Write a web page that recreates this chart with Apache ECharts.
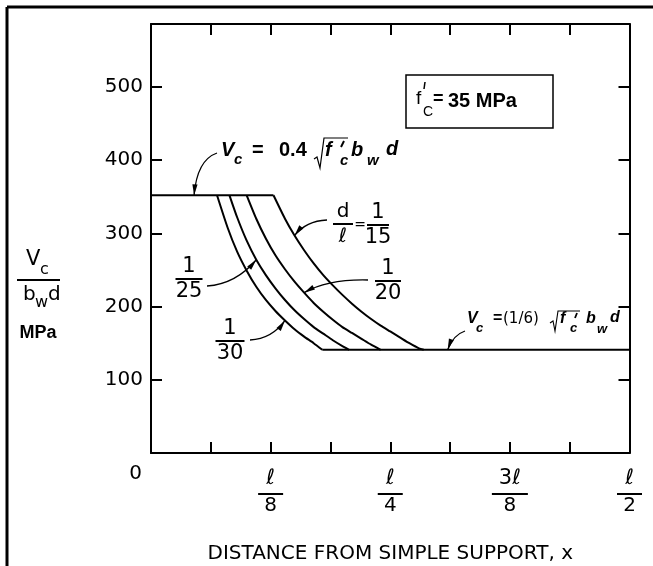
<!DOCTYPE html>
<html><head><meta charset="utf-8">
<script src="https://cdn.jsdelivr.net/npm/echarts@6/dist/echarts.min.js"></script>
<style>html,body{margin:0;padding:0;background:#fff}#c{width:653px;height:566px}</style>
</head><body><div id="c"></div>
<script>
// ---- data (x in units of span l, y in figure units) ----
const upperLimit = 352;   // Vc = 0.4 sqrt(f'c) bw d
const lowerLimit = 141;   // Vc = (1/6) sqrt(f'c) bw d
const upperX = [0, 0.128];
const lowerX = [0.179, 0.5];

const curve30X = [0.069, 0.08, 0.09, 0.10, 0.11, 0.12, 0.13, 0.14, 0.15, 0.16, 0.17, 0.179];
const curve30Y = [352, 308, 275, 249, 227, 209, 194, 181, 169, 159, 150, 141];
const curve25X = [0.082, 0.09, 0.10, 0.11, 0.12, 0.13, 0.14, 0.15, 0.16, 0.17, 0.18, 0.19, 0.20, 0.207];
const curve25Y = [352, 322, 290, 264, 243, 225, 209, 195, 183, 172, 163, 154, 146, 141];
const curve20X = [0.100, 0.11, 0.12, 0.13, 0.14, 0.15, 0.16, 0.17, 0.18, 0.19, 0.20, 0.21, 0.22, 0.23, 0.240];
const curve20Y = [352, 320, 293, 270, 251, 234, 219, 205, 193, 182, 172, 164, 156, 148, 141];
const curve15X = [0.128, 0.14, 0.15, 0.16, 0.17, 0.18, 0.19, 0.20, 0.21, 0.22, 0.23, 0.24, 0.25, 0.26, 0.27, 0.28, 0.285];
const curve15Y = [352, 320, 297, 277, 259, 243, 229, 216, 204, 193, 183, 174, 166, 158, 150, 143, 141];

const xTickValues = [0, 0.125, 0.25, 0.375, 0.5];
const xTickNum = ['0', 'ℓ', 'ℓ', '3ℓ', 'ℓ'];
const xTickDen = ['', '8', '4', '8', '2'];
const yTickLabels = [100, 200, 300, 400, 500];

// ---- chart ----
const FONT = 'DejaVu Sans';
const pair = (xs, ys) => xs.map((x, i) => [x, ys[i]]);
const lineSeries = (data) => ({
  type: 'line', data, showSymbol: false, smooth: 0.2, silent: true,
  lineStyle: { color: '#000', width: 2 }, z: 3
});

const chart = echarts.init(document.getElementById('c'), null, { renderer: 'canvas' });
const lineStyleAx = { show: true, onZero: false, lineStyle: { color: '#000', width: 2 } };
const tickAx = { show: true, inside: true, length: 11, lineStyle: { color: '#000', width: 2 } };
const option = {
  animation: false,
  backgroundColor: '#fff',
  grid: { left: 151, right: 23.5, top: 24, bottom: 113, containLabel: false, outerBoundsMode: 'none' },
  xAxis: [
    {
      type: 'value', min: 0, max: 0.5, interval: 0.0625, position: 'bottom',
      axisLine: lineStyleAx, axisTick: tickAx, splitLine: { show: false },
      name: 'DISTANCE FROM SIMPLE SUPPORT, x',
      nameLocation: 'middle', nameGap: 91,
      nameTextStyle: { fontFamily: FONT, fontSize: 20, color: '#000' },
      axisLabel: {
        show: true, interval: 0, margin: 14, showMinLabel: true, showMaxLabel: true,
        color: '#000', fontFamily: FONT,
        formatter: function (v) {
          const i = xTickValues.findIndex(t => Math.abs(t - v) < 1e-9);
          if (i < 0) return '';
          if (i === 0) return '{z|' + xTickNum[0] + '}';
          const bar = xTickNum[i].length > 1 ? 'bw' : 'b';
          return '{n|' + xTickNum[i] + '}\n{' + bar + '| }\n{d|' + xTickDen[i] + '}';
        },
        rich: {
          z: { fontSize: 20, fontFamily: FONT, lineHeight: 14, padding: [0, 31, 0, 0], color: '#000' },
          n: { fontSize: 21, fontFamily: FONT, lineHeight: 24, align: 'center', color: '#000' },
          b: { width: 25, height: 2, lineHeight: 6, fontSize: 2, backgroundColor: '#000', align: 'center' },
          bw: { width: 36, height: 2, lineHeight: 6, fontSize: 2, backgroundColor: '#000', align: 'center' },
          d: { fontSize: 20, fontFamily: FONT, lineHeight: 18, align: 'center', color: '#000' }
        }
      }
    },
    {
      type: 'value', min: 0, max: 0.5, interval: 0.0625, position: 'top',
      axisLine: lineStyleAx, axisTick: tickAx, splitLine: { show: false }, axisLabel: { show: false }
    }
  ],
  yAxis: [
    {
      type: 'value', min: 0, max: 586, interval: 100, position: 'left',
      axisLine: lineStyleAx, axisTick: tickAx, splitLine: { show: false },
      axisLabel: {
        margin: 8, color: '#000', fontFamily: FONT, fontSize: 20,
        formatter: v => (yTickLabels.indexOf(v) >= 0 ? String(v) : '')
      }
    },
    {
      type: 'value', min: 0, max: 586, interval: 100, position: 'right',
      axisLine: lineStyleAx, axisTick: tickAx, splitLine: { show: false }, axisLabel: { show: false }
    }
  ],
  series: [
    lineSeries(upperX.map(x => [x, upperLimit])),
    lineSeries(lowerX.map(x => [x, lowerLimit])),
    lineSeries(pair(curve30X, curve30Y)),
    lineSeries(pair(curve25X, curve25Y)),
    lineSeries(pair(curve20X, curve20Y)),
    lineSeries(pair(curve15X, curve15Y))
  ]
};
chart.setOption(option);

// ---- annotations ----
const toPx = (p) => chart.convertToPixel({ xAxisIndex: 0, yAxisIndex: 0 }, p);
const g = [];
function txt(t, x, y, font, align) {
  g.push({ type: 'text', silent: true, z: 10, style: {
    text: t, x: x, y: y, font: font, fill: '#000',
    align: align || 'left', verticalAlign: 'middle',
    textAlign: align || 'left', textVerticalAlign: 'middle' } });
}
function seg(x1, y1, x2, y2, w) {
  g.push({ type: 'line', silent: true, z: 10, shape: { x1, y1, x2, y2 }, style: { stroke: '#000', lineWidth: w || 2 } });
}
function poly(points, w) {
  g.push({ type: 'polyline', silent: true, z: 10, shape: { points }, style: { stroke: '#000', lineWidth: w || 1.2, fill: null } });
}
function arrow(p0, c, tip) {
  g.push({ type: 'bezierCurve', silent: true, z: 10,
    shape: { x1: p0[0], y1: p0[1], cpx1: c[0], cpy1: c[1], x2: tip[0], y2: tip[1] },
    style: { stroke: '#000', lineWidth: 1.3, fill: null } });
  let dx = tip[0] - c[0], dy = tip[1] - c[1];
  const L = Math.hypot(dx, dy); dx /= L; dy /= L;
  const len = 11, w = 2.6;
  const bx = tip[0] - dx * len, by = tip[1] - dy * len;
  g.push({ type: 'polygon', silent: true, z: 10,
    shape: { points: [[tip[0], tip[1]], [bx - dy * w, by + dx * w], [bx + dy * w, by - dx * w]] },
    style: { fill: '#000' } });
}
function frac(num, den, cx, barY, barW, fontN, fontD) {
  txt(num, cx, barY - 12, fontN, 'center');
  seg(cx - barW / 2, barY, cx + barW / 2, barY, 2);
  txt(den, cx, barY + 12.5, fontD || fontN, 'center');
}

const BI20 = 'italic bold 20px "Liberation Sans"';
const BI15 = 'italic bold 15px "Liberation Sans"';
const BI16 = 'italic bold 16px "Liberation Sans"';
const BI13 = 'italic bold 13px "Liberation Sans"';
const D21 = '21px "DejaVu Sans"';

// outer frame
seg(7, 7, 653, 7, 3);
seg(7, 7, 7, 566, 3);

// Y axis title
txt('V', 26, 260, '21px "DejaVu Sans"');
txt('c', 40, 270, '16px "DejaVu Sans"');
seg(17, 280, 60, 280, 2);
txt('b', 23, 295, '20px "DejaVu Sans"');
txt('w', 35, 303, '16px "DejaVu Sans"');
txt('d', 48, 295, '20px "DejaVu Sans"');
txt('MPa', 38, 333, 'bold 18px "Liberation Sans"', 'center');

// f'c box
g.push({ type: 'rect', silent: true, z: 10, shape: { x: 406, y: 75, width: 147, height: 53 },
  style: { stroke: '#000', lineWidth: 1.5, fill: '#fff' } });
txt('f', 416, 99, '19px "Liberation Sans"');
seg(425, 82, 424, 89, 1.5);
txt('C', 423, 112, '14px "Liberation Sans"');
txt('=', 433, 99, 'bold 18px "Liberation Sans"');
txt('35 MPa', 448, 101, 'bold 20px "Liberation Sans"');

// Vc = 0.4 sqrt(f'c) bw d
txt('V', 221, 150, BI20);
txt('c', 234, 160, BI15);
txt('=', 252, 150, 'bold 20px "Liberation Sans"');
txt('0.4', 279, 150, 'bold 20px "Liberation Sans"');
poly([[314, 159], [317, 157], [320, 168], [324, 138], [348, 138]], 1.2);
txt('f', 325, 150, BI20);
seg(344, 141, 341, 147, 2);
txt('c', 340, 161, BI15);
txt('b', 351, 150, BI20);
txt('w', 367, 161, BI15);
txt('d', 386, 149, BI20);

// Vc = (1/6) sqrt(f'c) bw d
txt('V', 467, 319, BI16);
txt('c', 476, 328, BI13);
txt('=', 493, 319, 'bold 16px "Liberation Sans"');
txt('(1/6)', 503, 319, '15px "DejaVu Sans"');
poly([[550, 323], [553, 321], [555, 331], [558, 311], [580, 311]], 1.1);
txt('f', 560, 319, BI16);
seg(577, 313, 575, 318, 1.8);
txt('c', 570, 328, BI13);
txt('b', 586, 319, BI16);
txt('w', 597, 329, BI13);
txt('d', 610, 318, BI16);

// fraction labels
frac('d', 'ℓ', 343, 224, 20, '20px "DejaVu Sans"');
txt('=', 360, 225, '14px "DejaVu Sans"', 'center');
frac('1', '15', 378, 225, 22, D21);
frac('1', '20', 388, 281, 26, D21);
frac('1', '25', 189, 279, 27, D21);
frac('1', '30', 230, 341, 29, D21);

// leader arrows (tips on the drawn lines)
arrow([217, 153], [197, 160], toPx([0.045, upperLimit]));
arrow([327, 220], [306, 221], toPx([curve15X[2], curve15Y[2]]));
arrow([368, 280], [328, 279], toPx([curve20X[6], curve20Y[6]]));
arrow([207, 286], [236, 284], toPx([curve25X[3], curve25Y[3]]));
arrow([250, 340], [272, 339], toPx([curve30X[7], curve30Y[7]]));
arrow([465, 331], [453, 335], toPx([0.31, lowerLimit]));

chart.setOption({ graphic: { elements: g } });
</script></body></html>
